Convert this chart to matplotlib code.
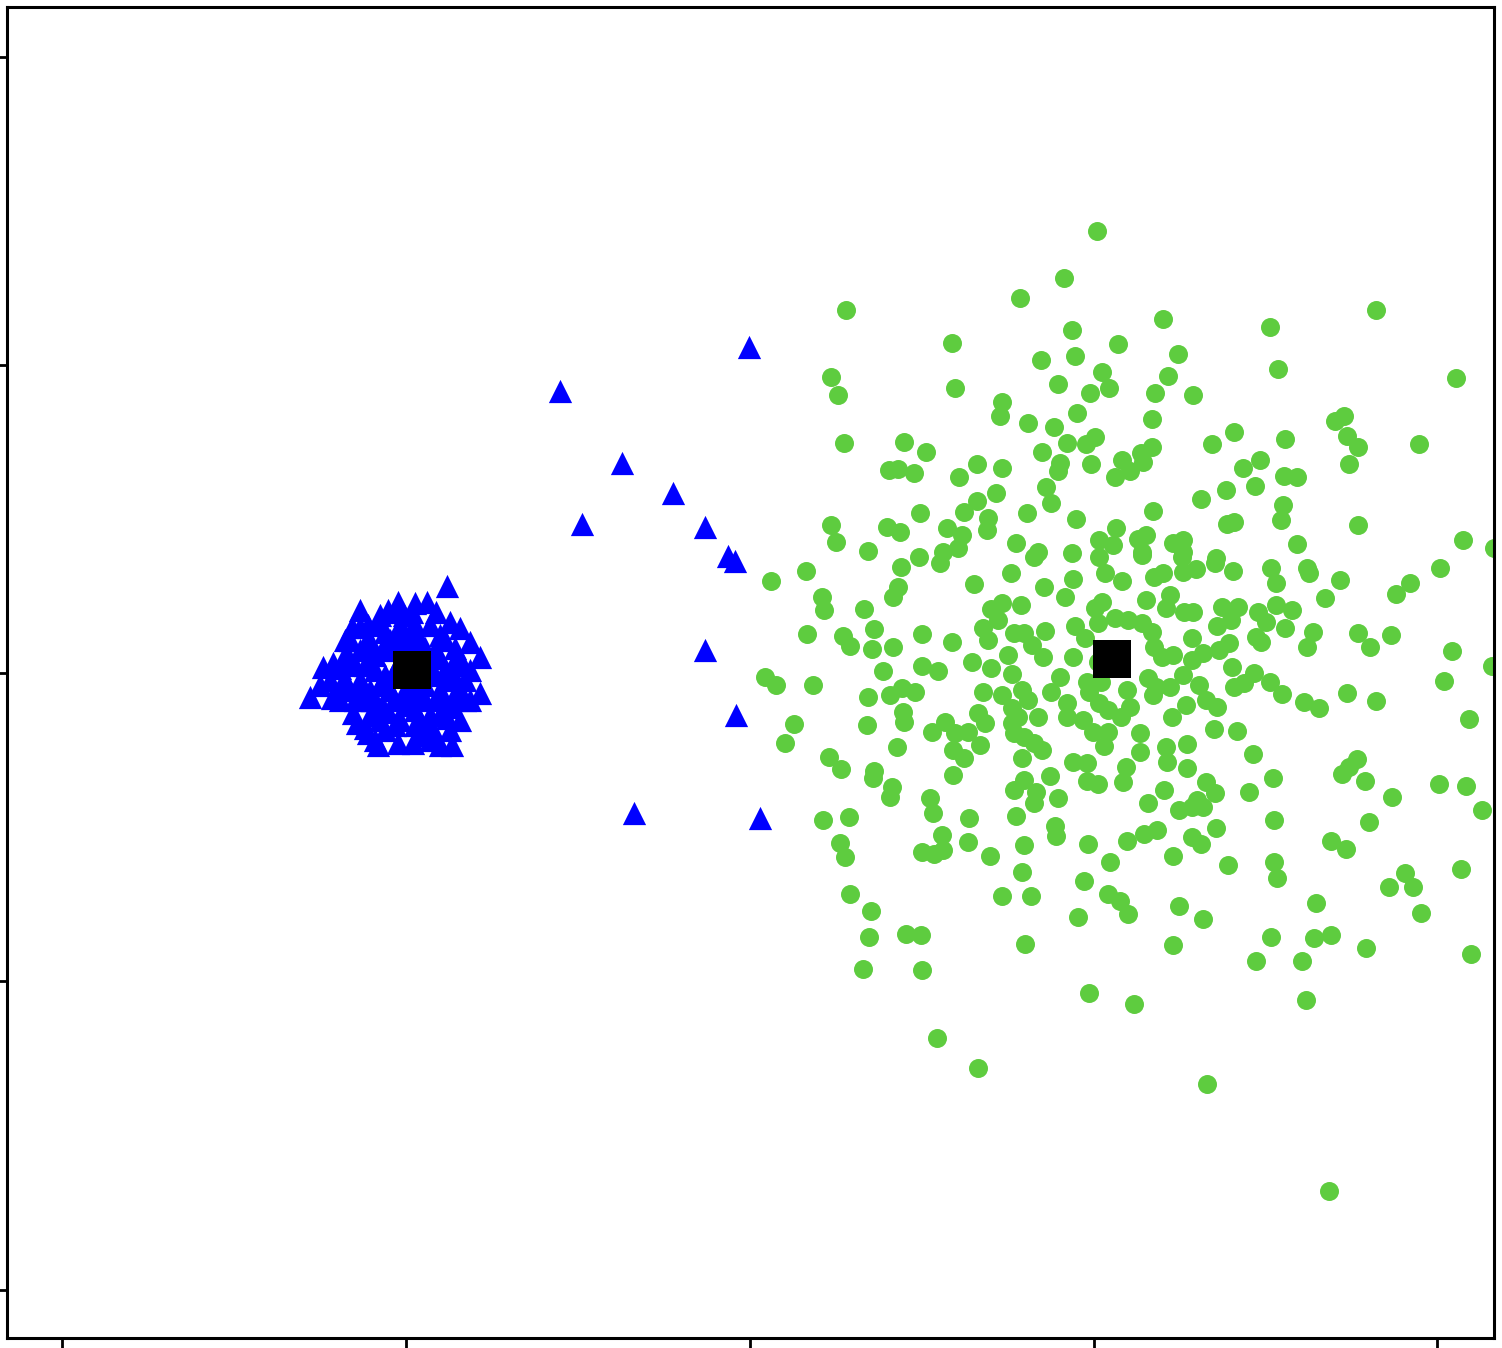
import matplotlib
matplotlib.use("Agg")
import matplotlib.pyplot as plt

# cluster A (blue triangles)
blue_x = [0.997, 0.448, 0.628, 0.776, 0.512, 0.869, 0.936, 0.956, 0.869, 0.959, 0.663, 1.029, 0.119,
          -0.279, -0.215, -0.241, -0.212, -0.157, -0.134, -0.110, -0.084, -0.052, -0.023, 0.026, 0.061,
          0.128, 0.157, 0.186, 0.215, 0.215, 0.186, 0.134, 0.128, 0.134, 0.061, 0.020, -0.023, -0.110,
          -0.142, -0.154, -0.192, -0.163, -0.177, -0.119, -0.076, 0.099, 0.166, 0.142, 0.087, -0.006,
          -0.099, -0.061, -0.047, -0.003, 0.041, 0.084, 0.113, 0.099, 0.055, -0.003, -0.047, -0.090,
          -0.134, -0.032, 0.070, 0.017, 0.017, -0.070, 0.041, 0.099, -0.105, -0.148,
          -0.177, -0.134, -0.090, -0.047, -0.017, 0.026, 0.070, 0.113, 0.142, 0.172, 0.142, 0.113,
          0.070, 0.026, -0.017, -0.061, -0.105, -0.148, -0.177, -0.221, -0.119, -0.076, -0.032, 0.012,
          0.055, 0.084, 0.128, 0.186, 0.041, -0.017, -0.061, -0.163, -0.090, 0.099, 0.041, -0.032,
          -0.134, -0.076, 0.172, -0.192, -0.250, 0.157, 0.070,
          -0.163, -0.113, -0.067, -0.023, 0.012, 0.055, 0.099, 0.134, 0.151, 0.093, 0.047, -0.003,
          -0.052, -0.099, -0.142, -0.192, 0.026, 0.076, 0.119, -0.023, 0.017, -0.119, -0.081]
blue_y = [1.058, 0.916, 0.682, 0.584, 0.484, 0.474, 0.380, 0.364, 0.075, -0.136, -0.455, -0.471, 0.282,
          -0.078, -0.081, 0.019, 0.032, 0.149, 0.149, 0.156, 0.162, 0.205, 0.231, 0.227, 0.231,
          0.166, 0.146, 0.101, 0.052, -0.065, -0.088, -0.110, -0.185, -0.234, -0.185, -0.227, -0.227, -0.195,
          -0.162, -0.130, -0.045, 0.107, 0.058, -0.088, -0.153, -0.136, 0.026, 0.081, 0.198, 0.188,
          0.091, 0.133, 0.075, 0.107, 0.107, 0.075, 0.010, -0.055, -0.088, -0.104, -0.055, 0.010,
          -0.023, 0.010, 0.016, -0.039, 0.058, -0.104, -0.153, 0.123, -0.055, 0.026,
          0.107, 0.075, 0.058, 0.107, 0.156, 0.156, 0.156, 0.107, 0.042, -0.023, -0.071, -0.104,
          -0.136, -0.120, -0.153, -0.185, -0.136, -0.088, -0.023, -0.023, 0.026, -0.039, -0.088, -0.071,
          -0.039, -0.006, -0.023, 0.010, 0.042, 0.042, -0.006, -0.055, -0.218, -0.234, -0.201, -0.169,
          0.205, 0.188, -0.088, -0.088, -0.039, -0.153, -0.218,
          0.042, 0.107, 0.081, 0.123, 0.133, 0.081, 0.049, 0.003, -0.049, -0.088, -0.071, -0.055,
          -0.127, -0.088, -0.049, 0.016, -0.169, -0.179, -0.146, 0.198, 0.198, -0.179, -0.234]

# cluster B (green circles)
green_x = [2.009, 1.913, 1.785, 1.279, 2.201, 2.512, 2.823, 1.936, 2.070, 1.587, 2.247, 1.945, 1.846,
           2.538, 1.235, 2.026, 2.218, 3.055, 1.898, 1.596, 2.044, 1.256, 1.991, 2.180, 2.288, 1.735,
           1.727, 1.951, 1.808, 1.884, 2.169, 2.730, 2.701, 1.273, 1.448, 1.512, 1.922, 2.003, 1.977,
           1.849, 1.901, 1.898, 1.994, 2.084, 2.061, 1.404, 1.430, 1.477, 1.608, 1.660, 1.733, 1.715,
           1.863, 1.875, 1.660, 1.622, 1.692, 1.689, 1.805, 1.494, 1.235, 1.250, 1.398, 1.436, 1.573,
           1.616, 1.605, 1.561, 1.773, 1.948, 2.064, 2.017, 2.058, 1.936, 2.015, 1.837, 1.343, 1.491,
           2.738, 2.770, 2.744, 2.948, 2.410, 2.346, 2.558, 2.169, 2.137, 2.145, 2.105, 2.483, 2.436,
           2.471, 2.384, 2.314, 2.555, 2.593, 2.552, 2.544, 2.172, 2.387, 2.410, 2.770, 3.076, 2.593,
           3.166, 2.128, 2.154, 2.142, 2.230, 2.259, 2.259, 2.355,
           1.552, 1.439, 1.163, 1.061, 1.759, 1.651, 1.826, 2.032, 2.084, 1.939, 1.855, 1.916, 1.430,
           1.416, 1.209, 1.215, 1.331, 1.703, 1.735, 1.788, 1.721, 2.026, 2.003, 2.061, 2.099, 2.012,
           1.945, 1.974, 1.677, 1.692, 1.858, 1.770, 1.797, 1.820, 1.852, 1.750, 1.166, 1.270, 1.291,
           1.360, 1.355, 1.416, 1.500, 1.587, 1.645, 1.500, 1.547, 1.387, 1.939, 1.703, 1.762, 1.901,
           1.875, 1.980, 1.988, 1.044, 1.076, 1.183, 1.343, 1.407, 1.442, 1.480, 1.445, 1.448, 1.677,
           1.733, 1.791, 1.808, 1.922, 1.924, 1.968, 2.017, 2.041, 2.081, 1.997, 2.041, 2.029, 1.762,
           1.779, 1.837, 1.762, 1.770, 1.799, 1.828, 1.849, 1.663, 1.683, 1.634, 1.669, 1.567, 1.529,
           1.596, 1.590, 1.622, 1.590, 1.128, 1.102, 1.340, 1.427, 1.230, 1.265, 1.360, 1.358, 1.413,
           1.407, 1.523, 1.532, 1.558, 1.561, 1.500, 1.535, 1.212, 1.288, 1.262, 1.276, 1.637, 1.634,
           1.698, 1.791, 1.797, 1.770, 1.834, 1.826, 1.872, 1.898, 1.773, 1.887, 1.890, 1.799, 1.791,
           1.985, 2.049, 1.971, 1.939, 1.980, 1.980, 2.012, 2.093, 2.087, 2.096, 2.012, 2.023, 2.096,
           2.142, 2.256, 2.259, 2.299, 2.352, 2.407, 2.517, 2.532, 2.622, 2.628, 2.718, 3.009, 2.922,
           2.881, 2.177, 2.201, 2.154, 2.221, 2.212, 2.262, 2.288, 2.672, 2.375, 2.419, 2.401, 2.360,
           2.477, 2.503, 2.532, 2.578, 2.558, 2.637, 2.622, 2.770, 2.805, 2.866, 3.044, 3.160, 3.020,
           3.093, 2.140, 2.169, 2.177, 2.198, 2.230, 2.285, 2.285, 2.317, 2.366, 2.395, 2.404, 2.474,
           2.488, 2.259, 2.157, 2.183, 2.172, 2.221, 2.308, 2.328, 2.358, 2.270, 2.227, 2.105, 2.134,
           2.410, 2.439, 2.468, 2.512, 2.547, 2.613, 2.657, 2.738, 2.823, 2.349, 2.416, 2.212, 2.215,
           2.273, 2.273, 2.134, 2.465, 2.523, 2.453, 2.328, 2.352, 2.302, 2.317, 2.250, 2.285, 2.206,
           2.157, 2.526, 2.767, 2.744, 2.724, 2.791, 2.869, 3.006, 3.084, 3.131, 2.802, 2.355, 2.186,
           2.148, 2.285, 2.314, 2.230, 2.390, 2.526, 2.535, 2.692, 2.735, 3.070, 2.907, 2.860, 2.930,
           1.291, 1.352, 1.346, 1.453, 1.497, 1.328, 1.500, 1.735, 1.817, 1.802, 1.956, 2.041, 2.078,
           2.099, 1.988, 2.119, 1.544, 1.663, 2.250, 2.317, 2.230, 2.648, 2.515, 2.474, 2.640, 2.692,
           2.605, 2.794, 2.953, 3.099, 2.619, 2.331, 2.686]
green_y = [1.435, 1.282, 1.218, 1.179, 1.149, 1.123, 1.179, 1.114, 1.068, 1.071, 1.036, 1.029, 1.016,
           0.987, 0.961, 0.977, 0.964, 0.958, 0.938, 0.925, 0.925, 0.903, 0.909, 0.909, 0.903, 0.880,
           0.834, 0.844, 0.812, 0.799, 0.825, 0.834, 0.818, 0.747, 0.750, 0.718, 0.747, 0.766, 0.744,
           0.718, 0.682, 0.656, 0.679, 0.692, 0.636, 0.659, 0.662, 0.649, 0.636, 0.679, 0.666, 0.584,
           0.604, 0.552, 0.558, 0.523, 0.503, 0.464, 0.519, 0.519, 0.481, 0.425, 0.474, 0.458, 0.471,
           0.448, 0.406, 0.393, 0.422, 0.500, 0.471, 0.432, 0.416, 0.390, 0.377, 0.393, 0.396, 0.377,
           0.769, 0.734, 0.679, 0.744, 0.782, 0.744, 0.760, 0.734, 0.714, 0.685, 0.656, 0.692, 0.666,
           0.607, 0.594, 0.565, 0.640, 0.636, 0.545, 0.497, 0.526, 0.484, 0.490, 0.481, 0.432, 0.419,
           0.406, 0.435, 0.448, 0.393, 0.422, 0.432, 0.393, 0.373,
           0.357, 0.344, 0.331, 0.299, 0.325, 0.289, 0.377, 0.325, 0.299, 0.305, 0.279, 0.247, 0.279,
           0.247, 0.247, 0.205, 0.208, 0.208, 0.227, 0.221, 0.172, 0.231, 0.211, 0.179, 0.172, 0.162,
           0.153, 0.114, 0.146, 0.107, 0.136, 0.130, 0.130, 0.091, 0.052, 0.058, 0.127, 0.120, 0.088,
           0.143, 0.078, 0.084, 0.127, 0.101, 0.036, 0.023, 0.006, 0.006, 0.052, 0.016, -0.003, -0.013,
           -0.062, -0.029, -0.062, -0.013, -0.039, -0.039, -0.078, -0.071, -0.049, -0.062, -0.127, -0.159, -0.062,
           -0.071, -0.055, -0.088, -0.097, -0.143, -0.153, -0.097, -0.120, -0.143, -0.192, -0.192, -0.237, -0.114,
           -0.143, -0.143, -0.162, -0.195, -0.208, -0.227, -0.250, -0.130, -0.162, -0.192, -0.234, -0.159, -0.192,
           -0.195, -0.250, -0.276, -0.331, -0.166, -0.227, -0.169, -0.240, -0.273, -0.312, -0.318, -0.341, -0.370,
           -0.403, -0.406, -0.455, -0.526, -0.575, -0.581, -0.588, -0.477, -0.468, -0.552, -0.597, -0.471, -0.549,
           -0.594, -0.276, -0.347, -0.380, -0.386, -0.422, -0.334, -0.406, -0.464, -0.497, -0.529, -0.558, -0.646,
           -0.555, -0.614, -0.675, -0.289, -0.292, -0.351, -0.360, -0.305, -0.354, -0.545, 0.036, -0.029, -0.055,
           0.383, 0.377, 0.328, 0.338, 0.357, 0.331, 0.341, 0.292, 0.341, 0.325, 0.302, 0.341, 0.292,
           0.256, 0.312, 0.325, 0.237, 0.253, 0.211, 0.198, 0.198, 0.244, 0.214, 0.214, 0.172, 0.153,
           0.198, 0.166, 0.221, 0.205, 0.146, 0.133, 0.084, 0.130, 0.084, 0.123, 0.071, 0.023, -0.026,
           -0.149, 0.162, 0.133, 0.084, 0.052, 0.058, 0.114, 0.042, 0.065, 0.075, 0.097, 0.019, 0.117,
           0.101, -0.006, -0.016, -0.045, -0.071, -0.045, -0.039, -0.088, -0.110, -0.104, -0.143, -0.110, -0.195,
           -0.045, -0.032, 0.000, -0.029, -0.068, -0.094, -0.114, -0.065, -0.091, -0.182, -0.188, -0.240, -0.289,
           -0.231, -0.308, -0.256, -0.263, -0.341, -0.386, -0.354, -0.390, -0.412, -0.435, -0.445, -0.435, -0.380,
           -0.422, -0.477, -0.279, -0.305, -0.328, -0.351, -0.403, -0.360, -0.367, -0.445, -0.484, -0.503, -0.510,
           -0.523, -0.532, -0.555, -0.594, -0.623, -0.614, -0.666, -0.545, -0.571, -0.636, -0.649, -0.695, -0.695,
           -0.718, -0.773, -0.857, -0.847, -0.851, -0.961, -0.964, -0.724, -0.724, -0.880, -0.792, -0.718, -0.740,
           -0.782, -1.039, -1.075, -1.185, -1.282, -0.756, -0.799, -0.883, -0.747, -0.857, -0.935, -0.860, -0.851,
           -0.935, -0.893, -0.779, -0.912, -1.062, -1.334, -1.679]

# cluster centres
center_x = [0.017, 2.055]
center_y = [0.010, 0.045]

fig = plt.figure(figsize=(15.02, 13.48), dpi=100)
ax = fig.add_axes([7 / 1502, 10 / 1348, 1487 / 1502, 1331 / 1348])

ax.scatter(green_x, green_y, s=187, marker='o', color='#5ecc3f', linewidths=0, zorder=2)
ax.scatter(blue_x, blue_y, s=280, marker='^', color='#0000ff', linewidths=0, zorder=3)
ax.scatter(center_x, center_y, s=750, marker='s', color='black', linewidths=0, zorder=4)

ax.set_xlim(-1.161, 3.165)
ax.set_ylim(-2.157, 2.161)
ax.set_xticks([-1, 0, 1, 2, 3])
ax.set_yticks([-2, -1, 0, 1, 2])
ax.tick_params(direction='out', length=7.5, width=2, labelbottom=False, labelleft=False)
for sp in ax.spines.values():
    sp.set_linewidth(2.2)

fig.savefig("out.png", dpi=100)
